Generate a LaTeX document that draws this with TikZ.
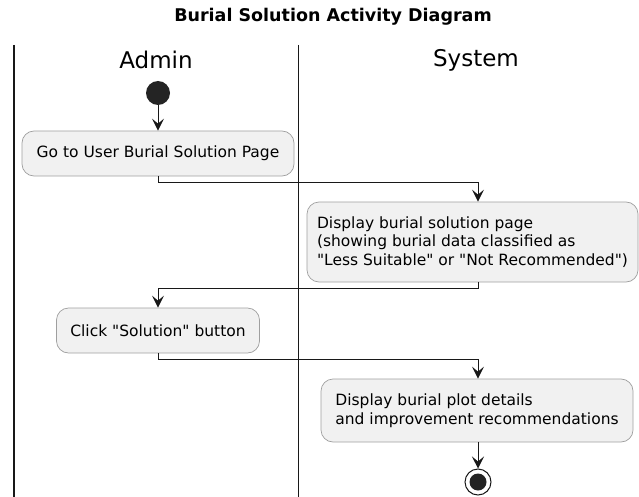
\documentclass[tikz,border=0pt]{standalone}
\usepackage{fontspec}
\setmainfont{DejaVu Sans}
\newfontfamily\plainfont{DejaVu Sans}
\usetikzlibrary{arrows.meta}
\definecolor{actfill}{HTML}{F1F1F1}
\definecolor{actline}{HTML}{181818}
\begin{document}
\begin{tikzpicture}[x=1pt,y=-1pt,
    action/.style={draw=gray!75,fill=actfill,rounded corners=12pt,line width=.7pt,
      align=left,inner sep=0pt,font=\plainfont\fontsize{15.5}{18.5}\selectfont},
    lanehead/.style={font=\plainfont\fontsize{23}{26}\selectfont},
    flow/.style={draw=actline,line width=.9pt,-{Stealth[length=12pt,width=12pt,inset=5pt]}},
    startnode/.style={circle,fill=actline!95,minimum size=24pt,inner sep=0pt},
    stopnode/.style={circle,draw=actline,line width=1pt,minimum size=26pt,inner sep=0pt}]
    		\newcommand{\lanetop}{45}
    		\newcommand{\adminx}{158}
    		\newcommand{\sysx}{478}
    	
    		\useasboundingbox (0,0) rectangle (639,497);
    	
    		% title
    		\node[font=\plainfont\fontsize{17.5}{21}\selectfont\bfseries] (title) at (333,17) {Burial Solution Activity Diagram};
    	
    		% swimlanes
    		\draw[actline,line width=1.6pt] (14,\lanetop) -- (14,497);
    		\draw[actline,line width=1.6pt] (298.5,\lanetop) -- (298.5,497);
    		\node[lanehead] (admin) at (156,60) {Admin};
    		\node[lanehead] (system) at (476,60) {System};
    	
    		% start and stop
    		\node[startnode] (start) at (\adminx,93) {};
    		\node[stopnode] (stop) at (\sysx,482) {};
    		\fill[actline!95] (stop) circle (8.5);
    	
    		% activities
    		\node[action,minimum width=272pt,minimum height=45pt] (gopage) at (\adminx,153.5)
    		  {Go to User Burial Solution Page};
    		\node[action,minimum width=331pt,minimum height=80pt] (showpage) at (472.5,242)
    		  {Display burial solution page\\(showing burial data classified as\\"Less Suitable" or "Not Recommended")};
    		\node[action,minimum width=203pt,minimum height=45pt] (clicksol) at (\adminx,330.5)
    		  {Click "Solution" button};
    		\node[action,minimum width=312pt,minimum height=63pt] (showplot) at (477,410.5)
    		  {Display burial plot details\\and improvement recommendations};
    	
    		% flows
    		\draw[flow] (start) -- (gopage.north);
    		\draw[flow] (gopage.south) -- ++(0,6) -| (showpage.north -| stop);
    		\draw[flow] (showpage.south -| stop) -- ++(0,6) -| (clicksol.north);
    		\draw[flow] (clicksol.south) -- ++(0,6) -| (showplot.north -| stop);
    		\draw[flow] (showplot.south -| stop) -- (stop.north);
\end{tikzpicture}
\end{document}
